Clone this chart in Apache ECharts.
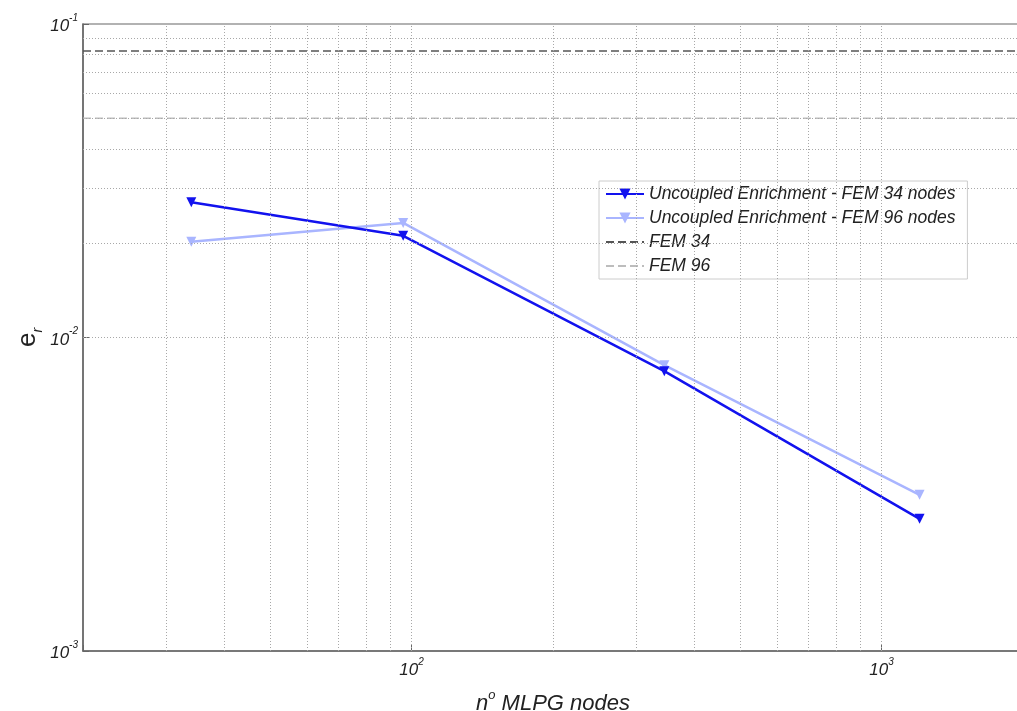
<!DOCTYPE html>
<html><head><meta charset="utf-8">
<script src="https://cdn.jsdelivr.net/npm/echarts@6/dist/echarts.min.js"></script>
<style>html,body{margin:0;padding:0;background:#fff;}#c{width:1017px;height:711px;}</style>
</head><body><div id="c"></div>
<script>
// ---- data ----
const nodes = [34, 96, 345, 1205];
const err34 = [0.0270, 0.0211, 0.00781, 0.00264];
const err96 = [0.0202, 0.0232, 0.00816, 0.00315];
const fem34 = 0.082;
const fem96 = 0.050;
const xRange = [20, 2000];
const yRange = [0.001, 0.1];
const xGridValues = [30, 40, 50, 60, 70, 80, 90, 100, 200, 300, 400, 500, 600, 700, 800, 900, 1000];
const yGridValues = [0.002, 0.003, 0.004, 0.005, 0.006, 0.007, 0.008, 0.009, 0.01,
                     0.02, 0.03, 0.04, 0.05, 0.06, 0.07, 0.08, 0.09];
const seriesNames = ['Uncoupled Enrichment - FEM 34 nodes', 'Uncoupled Enrichment - FEM 96 nodes', 'FEM 34', 'FEM 96'];

// ---- chart ----
const FONT = 'Liberation Sans, Arial, sans-serif';
function powLabel(v) {
  const e = Math.log10(v);
  if (Math.abs(e - Math.round(e)) > 1e-6) return '';
  return '{b|10}{s|' + Math.round(e) + '}';
}
const labelRich = {
  b: { fontSize: 17, fontStyle: 'italic', fontFamily: FONT, color: '#222', lineHeight: 22, verticalAlign: 'bottom' },
  s: { fontSize: 10, fontStyle: 'italic', fontFamily: FONT, color: '#222', lineHeight: 22, verticalAlign: 'top' }
};
const pairs = (ys) => nodes.map((x, i) => [x, ys[i]]);
const hiddenSymbol = { color: 'transparent', opacity: 0, borderWidth: 0 };

const chart = echarts.init(document.getElementById('c'), null, { renderer: 'canvas' });
chart.setOption({
  animation: false,
  backgroundColor: '#fff',
  grid: { left: 83, top: 24, width: 940, height: 627, outerBoundsMode: 'none', containLabel: false,
          show: true, borderColor: '#666', borderWidth: 1.2, backgroundColor: 'transparent' },
  legend: {
    data: [
      { name: seriesNames[0] },
      { name: seriesNames[1] },
      { name: seriesNames[2], itemStyle: hiddenSymbol },
      { name: seriesNames[3], itemStyle: hiddenSymbol }
    ],
    orient: 'vertical',
    left: 599, top: 181,
    backgroundColor: '#fff',
    borderColor: '#ccc', borderWidth: 1,
    padding: [4, 12, 4, 6],
    itemWidth: 38, itemHeight: 14, itemGap: 6,
    textStyle: { fontFamily: FONT, fontStyle: 'italic', fontSize: 17.5, color: '#222', lineHeight: 17 }
  },
  xAxis: {
    type: 'log', logBase: 10, min: xRange[0], max: xRange[1],
    name: '{n|n}{o|o}{t| MLPG nodes}', nameLocation: 'middle', nameGap: 38,
    nameTextStyle: {
      rich: {
        n: { fontSize: 22, fontStyle: 'italic', fontFamily: FONT, color: '#222', lineHeight: 26, verticalAlign: 'bottom' },
        o: { fontSize: 13, fontStyle: 'italic', fontFamily: FONT, color: '#222', lineHeight: 26, verticalAlign: 'top' },
        t: { fontSize: 22, fontStyle: 'italic', fontFamily: FONT, color: '#222', lineHeight: 26, verticalAlign: 'bottom' }
      }
    },
    axisLine: { lineStyle: { color: '#666', width: 1.5 } },
    axisTick: { inside: true, length: 6, lineStyle: { color: '#666' } },
    axisLabel: { formatter: powLabel, rich: labelRich, margin: 6, showMinLabel: true, showMaxLabel: true },
    splitLine: { show: false }
  },
  yAxis: {
    type: 'log', logBase: 10, min: yRange[0], max: yRange[1],
    name: '{e|e}{r|r}', nameLocation: 'middle', nameGap: 38, nameMoveOverlap: false,
    nameTextStyle: {
      rich: {
        e: { fontSize: 26, fontFamily: FONT, color: '#222', lineHeight: 30, verticalAlign: 'top' },
        r: { fontSize: 14, fontStyle: 'italic', fontFamily: FONT, color: '#222', lineHeight: 30, verticalAlign: 'bottom' }
      }
    },
    axisLine: { lineStyle: { color: '#666', width: 1.5 } },
    axisTick: { inside: true, length: 6, lineStyle: { color: '#666' } },
    axisLabel: { formatter: powLabel, rich: labelRich, margin: 5 },
    splitLine: { show: false }
  },
  series: [
    {
      name: '_grid', type: 'line', data: [[xRange[0], yRange[0]]], showSymbol: false, silent: true,
      lineStyle: { opacity: 0 }, z: 1,
      markLine: {
        silent: true, symbol: ['none', 'none'], label: { show: false }, animation: false,
        lineStyle: { type: [1, 2], color: '#a8a8a8', width: 1 },
        emphasis: { disabled: true },
        data: xGridValues.map(v => ({ xAxis: v })).concat(yGridValues.map(v => ({ yAxis: v })))
      }
    },
    {
      name: seriesNames[3], type: 'line', data: [[xRange[0], fem96], [xRange[1], fem96]],
      symbol: 'none', z: 2,
      lineStyle: { color: '#bdbdbd', width: 1.5, type: [8, 4] }, itemStyle: { color: '#bdbdbd' }
    },
    {
      name: seriesNames[2], type: 'line', data: [[xRange[0], fem34], [xRange[1], fem34]],
      symbol: 'none', z: 2,
      lineStyle: { color: '#555', width: 1.5, type: [8, 4] }, itemStyle: { color: '#555' }
    },
    {
      name: seriesNames[1], type: 'line', data: pairs(err96), z: 3,
      symbol: 'triangle', symbolRotate: 180, symbolSize: 10,
      lineStyle: { color: '#a9b5ff', width: 2.5 }, itemStyle: { color: '#a9b5ff' }
    },
    {
      name: seriesNames[0], type: 'line', data: pairs(err34), z: 4,
      symbol: 'triangle', symbolRotate: 180, symbolSize: 10,
      lineStyle: { color: '#1212ee', width: 2.5 }, itemStyle: { color: '#1212ee' }
    }
  ]
});
</script>
</body></html>
